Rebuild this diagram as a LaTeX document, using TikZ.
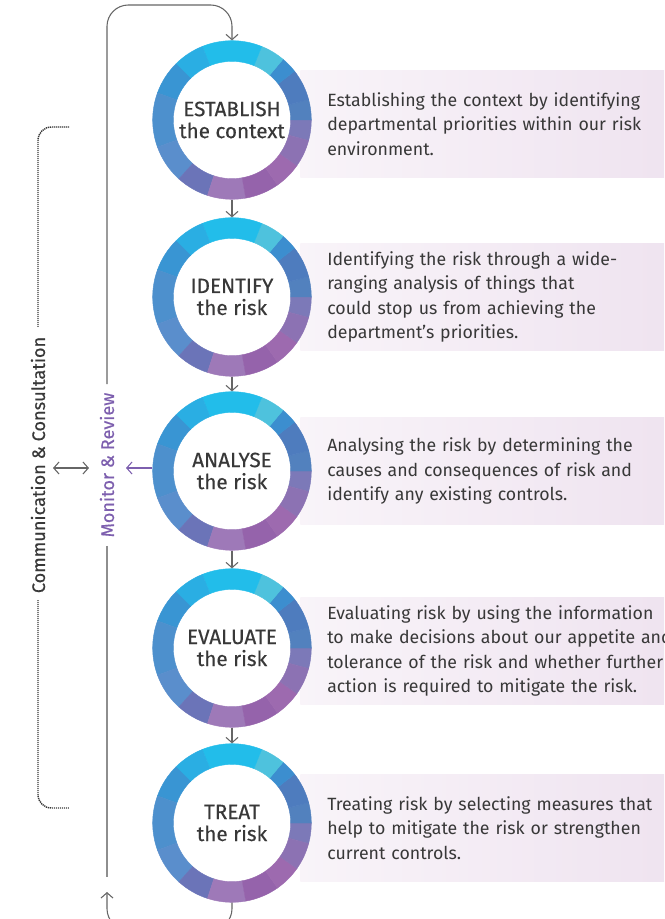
\documentclass[tikz,border=0pt]{standalone}
\usepackage{fontspec}
\setmainfont{Fira Sans}
\newfontfamily\stagefont{Fira Sans}[FakeBold=0.4]
\usetikzlibrary{arrows.meta,positioning}
\definecolor{textgrey}{HTML}{383838}
\definecolor{linegrey}{HTML}{666666}
\definecolor{railgrey}{HTML}{8E8E8E}
\definecolor{monpurple}{HTML}{7D5FAE}
\definecolor{boxlilac}{HTML}{EDE0EE}
\definecolor{ringa}{HTML}{7C79B8}
\definecolor{ringb}{HTML}{5281BE}
\definecolor{ringc}{HTML}{4E7CBE}
\definecolor{ringd}{HTML}{3C8ECF}
\definecolor{ringe}{HTML}{4EC2DD}
\definecolor{ringf}{HTML}{22BDEA}
\definecolor{ringg}{HTML}{2AAEE3}
\definecolor{ringh}{HTML}{3995D3}
\definecolor{ringi}{HTML}{4D90CD}
\definecolor{ringj}{HTML}{5A8ECC}
\definecolor{ringk}{HTML}{6B74B8}
\definecolor{ringl}{HTML}{9E79B8}
\definecolor{ringm}{HTML}{9563AB}
\definecolor{ringn}{HTML}{9D6AAF}
\definecolor{ringo}{HTML}{8C72B3}

\tikzset{
  pics/riskring/.style={code={
    \fill[white] (0,0) circle[radius=44pt];
    \foreach \a/\b/\c in {-15/0/ringa,0/15/ringb,15/38/ringc,38/50/ringd,
        50/68/ringe,68/112/ringf,112/135/ringg,135/160/ringh,160/200/ringi,
        200/228/ringj,228/252/ringk,252/280/ringl,280/305/ringm,305/325/ringn,
        325/345/ringo}
      \filldraw[fill=\c,draw=\c,line width=0.3pt]
        (\a:59.5pt) arc[start angle=\a,end angle=\b,radius=59.5pt]
        -- (\b:44pt) arc[start angle=\b,end angle=\a,radius=44pt] -- cycle;
  }}
}

\begin{document}
\begin{tikzpicture}[x=0.75pt,y=-0.75pt,
    stage/.style={circle,minimum size=119pt,inner sep=0pt,align=center,
      text=textgrey,font=\stagefont\fontsize{15.5}{16.5}\selectfont},
    desc/.style={anchor=west,shading=axis,left color=boxlilac!35,right color=boxlilac,
      minimum height=80pt,inner xsep=20.25pt,
      text width=290pt,align=left,text=textgrey,
      font=\fontsize{13.3}{18.4}\selectfont},
    flow/.style={draw=linegrey,line width=0.8pt,-{Straight Barb[length=4pt,width=9pt]}},
    rail/.style={draw=railgrey,line width=1.1pt},
    sidelabel/.style={rotate=90,font=\stagefont\fontsize{13.6}{15}\selectfont}]
  \useasboundingbox (0,0) rectangle (664,919);
  \clip (0,0) rectangle (664,919);

  % descriptions
  \node[desc] (d1) at (300,124) {Establishing the context by identifying\\departmental priorities within our risk\\environment.};
  \node[desc] (d2) at (300,297) {Identifying the risk through a wide-\\ranging analysis of things that\\could stop us from achieving the\\department’s priorities.};
  \node[desc] (d3) at (300,471) {Analysing the risk by determining the\\causes and consequences of risk and\\identify any existing controls.};
  \node[desc] (d4) at (300,651) {Evaluating risk by using the information\\to make decisions about our appetite and\\tolerance of the risk and whether further\\action is required to mitigate the risk.};
  \node[desc] (d5) at (300,828) {Treating risk by selecting measures that\\help to mitigate the risk or strengthen\\current controls.};

  % stages
  \foreach \n/\y/\name/\sub in {1/120/ESTABLISH/the context,2/297/IDENTIFY/the risk,
      3/471/ANALYSE/the risk,4/648/EVALUATE/the risk,5/823/TREAT/the risk}{
    \pic at (232,\y) {riskring};
    \node[stage] (c\n) at (232,\y) {\name\\\sub};
  }
  \foreach \i/\j in {1/2,2/3,3/4,4/5}
    \draw[flow] (c\i.south) -- (c\j.north);

  % monitor & review loop
  \node[sidelabel,text=monpurple] (mr) at (107,465) {Monitor \& Review};
  \coordinate (looptop) at (232,5);
  \coordinate (railend) at (107,877);
  \coordinate (loopbot) at (107,930);
  \coordinate (mrtip) at (107,892);
  \coordinate (mrarrow) at (126,468);
  \draw[flow,rounded corners=16pt] ([yshift=3pt]mr.east) |- (looptop) -- (c1.north);
  \draw[rail] ([yshift=-3pt]mr.west) -- (railend);
  \draw[flow,rounded corners=16pt] (c5.south) |- (loopbot) -- (mrtip);
  \draw[flow,draw=monpurple] (c3.west |- mrarrow) -- (mrarrow);

  % communication & consultation
  \node[sidelabel,text=textgrey] (cc) at (38,465) {Communication \& Consultation};
  \draw[flow,{Straight Barb[length=4pt,width=9pt]}-{Straight Barb[length=4pt,width=9pt]}]
    (53,468) -- (89,468);
  \draw[draw=textgrey,line width=1.1pt,dash pattern=on 0.9pt off 0.6pt,rounded corners=10pt]
    (69,127) -| (38,327);
  \draw[draw=textgrey,line width=1.1pt,dash pattern=on 0.9pt off 0.6pt,rounded corners=10pt]
    (38,600) |- (69,808);
\end{tikzpicture}
\end{document}
